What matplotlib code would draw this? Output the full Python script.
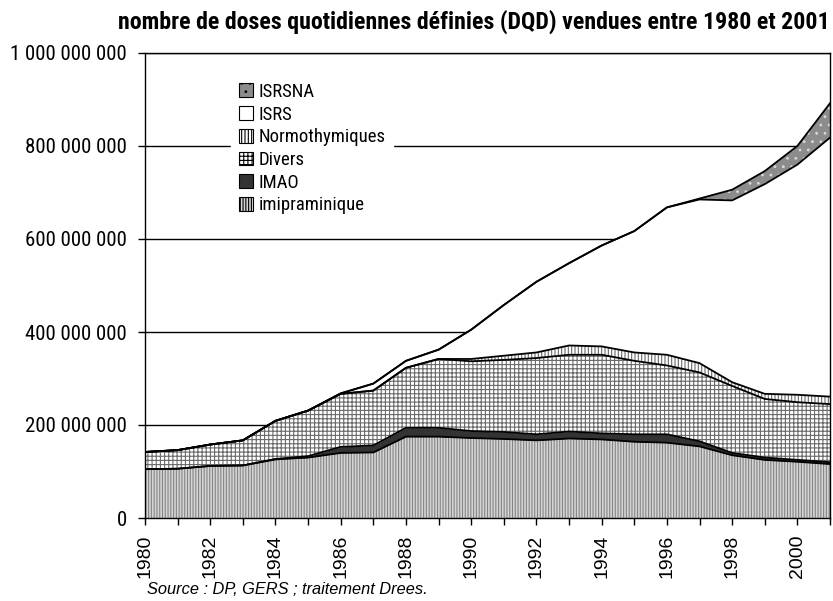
import numpy as np
import matplotlib
matplotlib.use("Agg")
import matplotlib.pyplot as plt
from matplotlib.patches import Patch

plt.rcParams['font.family'] = ['Roboto Condensed', 'DejaVu Sans']
plt.rcParams['hatch.linewidth'] = 0.8

# années
years = np.arange(1980, 2002)

# DQD par classe (en doses)
imipraminique = np.array([105, 106, 112, 113, 126, 130, 140, 141, 175, 175, 172,
                          170, 167, 171, 169, 164, 162, 154, 135, 125, 121, 116]) * 1e6
imao = np.array([0, 0, 0, 0, 1, 3, 13, 15, 19, 19, 15,
                 15, 13, 15, 13, 16, 18, 11, 5, 5, 4, 4]) * 1e6
divers = np.array([37, 40, 46, 54, 82, 98, 114, 118, 129, 148, 150,
                   155, 164, 165, 169, 158, 148, 148, 144, 126, 124, 125]) * 1e6
normothymiques = np.array([0, 0, 0, 0, 0, 0, 0, 0, 0, 0, 5,
                           9, 12, 20, 18, 18, 23, 20, 8, 11, 16, 16]) * 1e6
isrs = np.array([0, 0, 0, 0, 0, 0, 1, 15, 15, 20, 63,
                 109, 152, 177, 217, 261, 317, 352, 391, 451, 495, 557]) * 1e6
isrsna = np.array([0, 0, 0, 0, 0, 0, 0, 0, 0, 0, 0,
                   0, 0, 0, 0, 0, 0, 2, 23, 28, 40, 74]) * 1e6

series = [
    # nom, valeurs, couleur de fond, hachures, couleur des hachures
    ("imipraminique", imipraminique, "#d4d4d4", "||||||", "#858585"),
    ("IMAO", imao, "#333333", None, "#333333"),
    ("Divers", divers, "white", "++++", "#6a6a6a"),
    ("Normothymiques", normothymiques, "white", "|||||", "#6a6a6a"),
    ("ISRS", isrs, "white", None, "white"),
    ("ISRSNA", isrsna, "#8c8c8c", "..", "#d8d8d8"),
]

fig = plt.figure(figsize=(8.33, 6.01), dpi=100)
ax = fig.add_axes([145 / 833, 1 - 518 / 601, 685 / 833, 465 / 601])

bottom = np.zeros(len(years))
handles = []
for name, vals, fc, hatch, hc in series:
    top = bottom + vals
    ax.fill_between(years, bottom, top, facecolor=fc, hatch=hatch,
                    edgecolor=hc, linewidth=0, zorder=2)
    ax.plot(years, top, color="black", lw=1.3, zorder=3)
    handles.append(Patch(facecolor=fc, hatch=hatch, edgecolor="black",
                         linewidth=0.8, label=name))
    bottom = top

ax.set_xlim(1980, 2001)
ax.set_ylim(0, 1e9)
yt = np.arange(0, 1.01e9, 2e8)
ax.set_yticks(yt)
ax.set_yticklabels([f"{int(v):,}".replace(",", " ") for v in yt], fontsize=15)
ax.set_xticks(np.arange(1980, 2001, 2))
ax.set_xticks(np.arange(1981, 2002, 2), minor=True)
ax.set_xticklabels([str(y) for y in range(1980, 2001, 2)], rotation=90,
                   fontsize=14, family=['Liberation Sans', 'DejaVu Sans'])
ax.tick_params(axis="both", which="both", direction="out", length=5, width=1)
ax.tick_params(axis="y", pad=8)
ax.tick_params(axis="x", pad=7)

ax.yaxis.grid(True, color="black", lw=1)
ax.set_axisbelow(True)
for s in ax.spines.values():
    s.set_linewidth(1)
    s.set_zorder(4)

# légende dans l'ordre du graphique (du haut vers le bas)
leg = ax.legend(handles=handles[::-1], loc="upper left",
                bbox_to_anchor=(0.112, 0.972), fontsize=13.5, frameon=True,
                handlelength=0.75, handleheight=0.75, handletextpad=0.3,
                labelspacing=0.25, borderpad=0.4)
leg.get_frame().set_edgecolor("white")
leg.get_frame().set_facecolor("white")
leg.get_frame().set_alpha(1)
leg.set_zorder(5)

fig.text(830 / 833, 1 - 22 / 601,
         "nombre de doses quotidiennes définies (DQD) vendues entre 1980 et 2001",
         ha="right", va="center", fontsize=17.2, fontweight="bold")
fig.text(147 / 833, 1 - 590 / 601, "Source : DP, GERS ; traitement Drees.",
         ha="left", va="center", fontsize=11.8, style="italic",
         family=['Liberation Sans', 'DejaVu Sans'])

fig.savefig("out.png", dpi=100)
